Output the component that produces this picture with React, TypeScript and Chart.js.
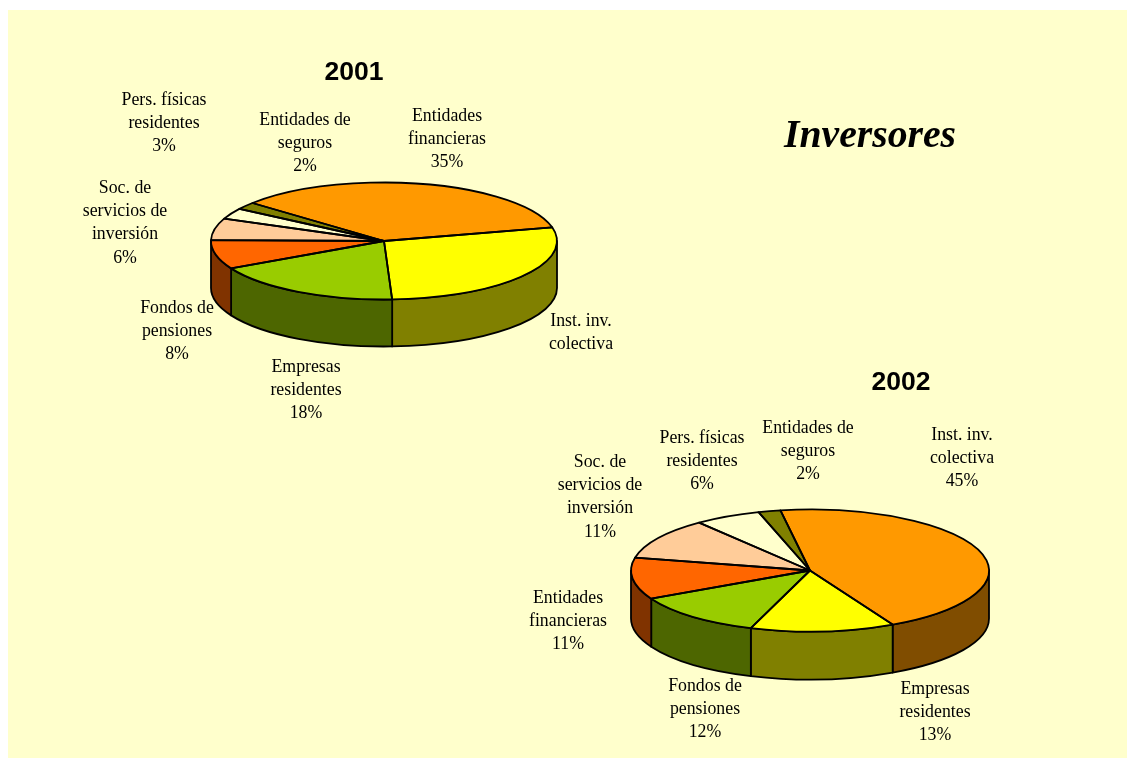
import React, { useEffect, useRef } from "react";
import { Chart, registerables } from "chart.js";

Chart.register(...registerables);

const W = 1127;
const H = 758;

// ---- data ----
const categories2001 = [
  "Entidades financieras",
  "Inst. inv. colectiva",
  "Empresas residentes",
  "Fondos de pensiones",
  "Soc. de servicios de inversión",
  "Pers. físicas residentes",
  "Entidades de seguros",
];
const values2001 = [35, 28, 18, 8, 6, 3, 2];
const labelLines2001 = [
  ["Entidades", "financieras", "35%"],
  ["Inst. inv.", "colectiva"],
  ["Empresas", "residentes", "18%"],
  ["Fondos de", "pensiones", "8%"],
  ["Soc. de", "servicios de", "inversión", "6%"],
  ["Pers. físicas", "residentes", "3%"],
  ["Entidades de", "seguros", "2%"],
];

const categories2002 = [
  "Inst. inv. colectiva",
  "Empresas residentes",
  "Fondos de pensiones",
  "Entidades financieras",
  "Soc. de servicios de inversión",
  "Pers. físicas residentes",
  "Entidades de seguros",
];
const values2002 = [45, 13, 12, 11, 11, 6, 2];
const labelLines2002 = [
  ["Inst. inv.", "colectiva", "45%"],
  ["Empresas", "residentes", "13%"],
  ["Fondos de", "pensiones", "12%"],
  ["Entidades", "financieras", "11%"],
  ["Soc. de", "servicios de", "inversión", "11%"],
  ["Pers. físicas", "residentes", "6%"],
  ["Entidades de", "seguros", "2%"],
];

// ---- styles ----
const topColors = ["#FF9900", "#FFFF00", "#99CC00", "#FF6600", "#FFCC99", "#FFFFCC", "#808000"];
const wallColors = ["#804D00", "#808000", "#4D6600", "#803300", "#806633", "#808066", "#404000"];

// ---- layout ----
const labelAnchors2001 = [
  [447, 116], [581, 321], [306, 367], [177, 308], [125, 188], [164, 100], [305, 120],
];
const labelAnchors2002 = [
  [962, 435], [935, 689], [705, 686], [568, 598], [600, 462], [702, 438], [808, 428],
];
const LABEL_STEP = 23.3;

type PieCfg = {
  title: string;
  titleAt: [number, number];
  categories: string[];
  values: number[];
  lines: string[][];
  anchors: number[][];
  rotation: number;
  cx: number;
  cy: number;
  rx: number;
  ry: number;
  depth: number;
};

const pies: PieCfg[] = [
  {
    title: "2001",
    titleAt: [354, 73],
    categories: categories2001,
    values: values2001,
    lines: labelLines2001,
    anchors: labelAnchors2001,
    rotation: -49.5,
    cx: 384,
    cy: 241,
    rx: 173,
    ry: 58.5,
    depth: 47,
  },
  {
    title: "2002",
    titleAt: [901, 383],
    categories: categories2002,
    values: values2002,
    lines: labelLines2002,
    anchors: labelAnchors2002,
    rotation: -9.5,
    cx: 810,
    cy: 570.5,
    rx: 179,
    ry: 61,
    depth: 48,
  },
];

const LINE_WIDTH = 1.8;

function pie3dPlugin(cfg: PieCfg) {
  const k = cfg.ry / cfg.rx;
  return {
    id: "pie3d",
    beforeDatasetsDraw(chart: any) {
      const ctx = chart.ctx;
      const arcs = chart.getDatasetMeta(0).data;
      const { x, y, outerRadius } = arcs[0].getProps(["x", "y", "outerRadius"], true);
      const ry = outerRadius * k;
      ctx.save();
      ctx.strokeStyle = "#000";
      ctx.lineWidth = LINE_WIDTH;
      ctx.lineJoin = "round";
      arcs.forEach((arc: any, i: number) => {
        const { startAngle, endAngle } = arc.getProps(["startAngle", "endAngle"], true);
        for (let turn = -2; turn <= 2; turn++) {
          const a = Math.max(startAngle + turn * 2 * Math.PI, 0);
          const b = Math.min(endAngle + turn * 2 * Math.PI, Math.PI);
          if (b <= a) continue;
          ctx.beginPath();
          ctx.ellipse(x, y, outerRadius, ry, 0, a, b, false);
          ctx.ellipse(x, y + cfg.depth, outerRadius, ry, 0, b, a, true);
          ctx.closePath();
          ctx.fillStyle = wallColors[i];
          ctx.fill();
          ctx.stroke();
        }
      });
      ctx.restore();
      // flatten the disc: the library's arcs are drawn inside this squeeze
      ctx.save();
      ctx.translate(x, y);
      ctx.scale(1, k);
      ctx.translate(-x, -y);
    },
    afterDatasetsDraw(chart: any) {
      const ctx = chart.ctx;
      ctx.restore();
      const arcs = chart.getDatasetMeta(0).data;
      ctx.save();
      ctx.strokeStyle = "#000";
      ctx.lineWidth = LINE_WIDTH;
      ctx.lineJoin = "round";
      arcs.forEach((arc: any) => {
        const { x, y, startAngle, endAngle, outerRadius } = arc.getProps(
          ["x", "y", "startAngle", "endAngle", "outerRadius"],
          true
        );
        ctx.beginPath();
        ctx.moveTo(x, y);
        ctx.ellipse(x, y, outerRadius, outerRadius * k, 0, startAngle, endAngle, false);
        ctx.closePath();
        ctx.stroke();
      });
      // texts
      ctx.fillStyle = "#000";
      ctx.textAlign = "center";
      ctx.textBaseline = "middle";
      ctx.font = '17.8px "Liberation Serif"';
      cfg.lines.forEach((lines, i) => {
        const [ax, ay] = cfg.anchors[i];
        lines.forEach((line, j) => ctx.fillText(line, ax, ay + j * LABEL_STEP));
      });
      ctx.font = 'bold 26.5px "Liberation Sans"';
      ctx.fillText(cfg.title, cfg.titleAt[0], cfg.titleAt[1]);
      ctx.restore();
    },
  };
}

function makeChart(canvas: HTMLCanvasElement, cfg: PieCfg) {
  return new Chart(canvas, {
    type: "pie",
    data: {
      labels: cfg.categories,
      datasets: [
        {
          data: cfg.values,
          backgroundColor: topColors,
          borderWidth: 0,
          clip: false,
        } as any,
      ],
    },
    options: {
      animation: false,
      responsive: false,
      rotation: cfg.rotation,
      layout: {
        padding: {
          left: cfg.cx - cfg.rx,
          right: W - cfg.cx - cfg.rx,
          top: cfg.cy - cfg.rx,
          bottom: H - cfg.cy - cfg.rx,
        },
      },
      plugins: { legend: { display: false }, tooltip: { enabled: false } },
    },
    plugins: [pie3dPlugin(cfg)],
  } as any);
}

export default function App() {
  const ref1 = useRef<HTMLCanvasElement>(null);
  const ref2 = useRef<HTMLCanvasElement>(null);
  useEffect(() => {
    const c1 = makeChart(ref1.current!, pies[0]);
    const c2 = makeChart(ref2.current!, pies[1]);
    return () => {
      c1.destroy();
      c2.destroy();
    };
  }, []);
  const canvasStyle: React.CSSProperties = { position: "absolute", left: 0, top: 0, display: "block" };
  return (
    <div style={{ position: "fixed", left: 0, top: 0, width: W, height: H, overflow: "hidden", background: "#fff" }}>
      <div style={{ position: "absolute", left: 8, top: 10, right: 0, bottom: 0, background: "#FFFFCC" }} />
      <canvas ref={ref1} width={W} height={H} style={canvasStyle} />
      <canvas ref={ref2} width={W} height={H} style={canvasStyle} />
      <div
        style={{
          position: "absolute",
          left: 770,
          top: 111,
          width: 200,
          textAlign: "center",
          font: 'italic bold 39.7px/46px "Liberation Serif"',
          color: "#000",
        }}
      >
        Inversores
      </div>
    </div>
  );
}
